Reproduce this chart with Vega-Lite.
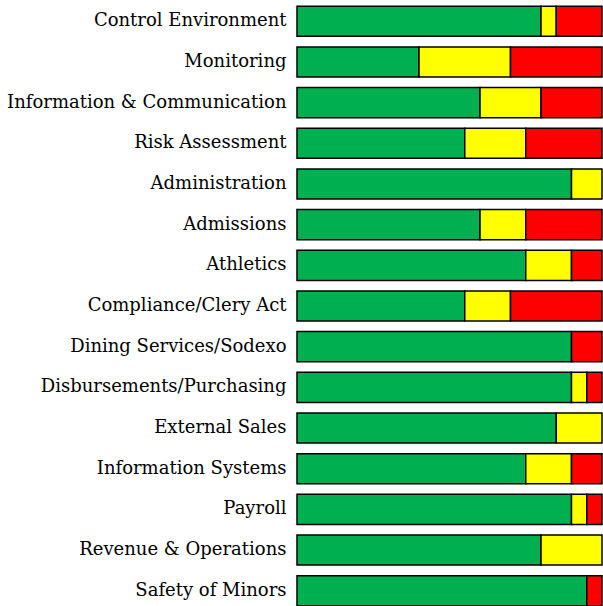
{
  "$schema": "https://vega.github.io/schema/vega-lite/v6.json",
  "autosize": "none",
  "width": 305,
  "height": 606,
  "padding": {"left": 297, "top": 3, "right": 1, "bottom": 0},
  "background": "white",
  "config": {"view": {"stroke": null}},
  "data": {
    "values": [
      {"category": "Control Environment", "status": "Green", "value": 16},
      {"category": "Control Environment", "status": "Yellow", "value": 1},
      {"category": "Control Environment", "status": "Red", "value": 3},
      {"category": "Monitoring", "status": "Green", "value": 8},
      {"category": "Monitoring", "status": "Yellow", "value": 6},
      {"category": "Monitoring", "status": "Red", "value": 6},
      {"category": "Information & Communication", "status": "Green", "value": 12},
      {"category": "Information & Communication", "status": "Yellow", "value": 4},
      {"category": "Information & Communication", "status": "Red", "value": 4},
      {"category": "Risk Assessment", "status": "Green", "value": 11},
      {"category": "Risk Assessment", "status": "Yellow", "value": 4},
      {"category": "Risk Assessment", "status": "Red", "value": 5},
      {"category": "Administration", "status": "Green", "value": 18},
      {"category": "Administration", "status": "Yellow", "value": 2},
      {"category": "Admissions", "status": "Green", "value": 12},
      {"category": "Admissions", "status": "Yellow", "value": 3},
      {"category": "Admissions", "status": "Red", "value": 5},
      {"category": "Athletics", "status": "Green", "value": 15},
      {"category": "Athletics", "status": "Yellow", "value": 3},
      {"category": "Athletics", "status": "Red", "value": 2},
      {"category": "Compliance/Clery Act", "status": "Green", "value": 11},
      {"category": "Compliance/Clery Act", "status": "Yellow", "value": 3},
      {"category": "Compliance/Clery Act", "status": "Red", "value": 6},
      {"category": "Dining Services/Sodexo", "status": "Green", "value": 18},
      {"category": "Dining Services/Sodexo", "status": "Red", "value": 2},
      {"category": "Disbursements/Purchasing", "status": "Green", "value": 18},
      {"category": "Disbursements/Purchasing", "status": "Yellow", "value": 1},
      {"category": "Disbursements/Purchasing", "status": "Red", "value": 1},
      {"category": "External Sales", "status": "Green", "value": 17},
      {"category": "External Sales", "status": "Yellow", "value": 3},
      {"category": "Information Systems", "status": "Green", "value": 15},
      {"category": "Information Systems", "status": "Yellow", "value": 3},
      {"category": "Information Systems", "status": "Red", "value": 2},
      {"category": "Payroll", "status": "Green", "value": 18},
      {"category": "Payroll", "status": "Yellow", "value": 1},
      {"category": "Payroll", "status": "Red", "value": 1},
      {"category": "Revenue & Operations", "status": "Green", "value": 16},
      {"category": "Revenue & Operations", "status": "Yellow", "value": 4},
      {"category": "Safety of Minors", "status": "Green", "value": 19},
      {"category": "Safety of Minors", "status": "Red", "value": 1}
    ]
  },
  "transform": [
    {"calculate": "indexof(['Green','Yellow','Red'], datum.status)", "as": "rank"}
  ],
  "mark": {"type": "bar", "stroke": "black", "strokeWidth": 1.5},
  "encoding": {
    "y": {
      "field": "category",
      "type": "nominal",
      "sort": null,
      "scale": {"paddingInner": 0.26, "paddingOuter": 0.08},
      "axis": {
        "title": null,
        "ticks": false,
        "domain": false,
        "labelFont": "DejaVu Serif",
        "labelFontSize": 18,
        "labelColor": "black",
        "labelPadding": 11,
        "labelLimit": 400
      }
    },
    "x": {
      "field": "value",
      "type": "quantitative",
      "stack": "zero",
      "scale": {"domain": [0, 20], "nice": false},
      "axis": null
    },
    "color": {
      "field": "status",
      "type": "nominal",
      "scale": {"domain": ["Green", "Yellow", "Red"], "range": ["#00B050", "#FFFF00", "#FF0000"]},
      "legend": null
    },
    "order": {"field": "rank", "type": "quantitative"}
  }
}
